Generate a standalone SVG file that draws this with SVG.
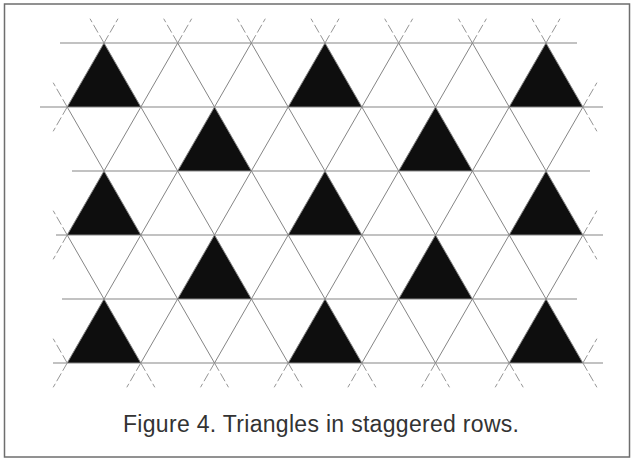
<svg xmlns="http://www.w3.org/2000/svg" xmlns:xlink="http://www.w3.org/1999/xlink" width="631" height="459" viewBox="0 0 631 459">
<style>
.frame{fill:#fff;stroke:#6e6e6e;stroke-width:1.5}
.grid line{stroke:#858585;stroke-width:1;fill:none}
.ext line{stroke:#959595;stroke-width:1;stroke-dasharray:9 3;fill:none}
.tri{fill:#0e0e0e}
.cap{font-family:"Liberation Sans",Arial,sans-serif;font-size:23px;fill:#333}
</style>
<defs>
<path id="t" d="M0,0 L36.835,64 L-36.835,64 Z"/>
</defs>
<rect class="frame" x="4.5" y="4" width="625" height="453"/>
<g id="triangles" class="tri">
<use xlink:href="#t" href="#t" x="104" y="43"/>
<use xlink:href="#t" href="#t" x="325" y="43"/>
<use xlink:href="#t" href="#t" x="546" y="43"/>
<use xlink:href="#t" href="#t" x="214.5" y="107"/>
<use xlink:href="#t" href="#t" x="435.5" y="107"/>
<use xlink:href="#t" href="#t" x="104" y="171"/>
<use xlink:href="#t" href="#t" x="325" y="171"/>
<use xlink:href="#t" href="#t" x="546" y="171"/>
<use xlink:href="#t" href="#t" x="214.5" y="235"/>
<use xlink:href="#t" href="#t" x="435.5" y="235"/>
<use xlink:href="#t" href="#t" x="104" y="299"/>
<use xlink:href="#t" href="#t" x="325" y="299"/>
<use xlink:href="#t" href="#t" x="546" y="299"/>
</g>
<g id="connectors">
<g class="grid">
<line x1="60" y1="43" x2="577" y2="43"/>
<line x1="40" y1="107" x2="603" y2="107"/>
<line x1="72" y1="171" x2="590" y2="171"/>
<line x1="56" y1="235" x2="603" y2="235"/>
<line x1="62" y1="299" x2="577" y2="299"/>
<line x1="53" y1="363" x2="603" y2="363"/>
<line x1="67.2" y1="235" x2="140.8" y2="363"/>
<line x1="67.2" y1="107" x2="214.5" y2="363"/>
<line x1="104" y1="43" x2="288.2" y2="363"/>
<line x1="177.7" y1="43" x2="361.9" y2="363"/>
<line x1="251.3" y1="43" x2="435.5" y2="363"/>
<line x1="325" y1="43" x2="509.2" y2="363"/>
<line x1="398.7" y1="43" x2="582.9" y2="363"/>
<line x1="472.4" y1="43" x2="582.9" y2="235"/>
<line x1="546" y1="43" x2="582.9" y2="107"/>
<line x1="104" y1="43" x2="67.2" y2="107"/>
<line x1="177.7" y1="43" x2="67.2" y2="235"/>
<line x1="251.3" y1="43" x2="67.2" y2="363"/>
<line x1="325" y1="43" x2="140.8" y2="363"/>
<line x1="398.7" y1="43" x2="214.5" y2="363"/>
<line x1="472.4" y1="43" x2="288.2" y2="363"/>
<line x1="546" y1="43" x2="361.9" y2="363"/>
<line x1="582.9" y1="107" x2="435.5" y2="363"/>
<line x1="582.9" y1="235" x2="509.2" y2="363"/>
</g>
<g class="ext">
<line x1="67.2" y1="363" x2="53.2" y2="338.7"/>
<line x1="67.2" y1="235" x2="53.2" y2="210.7"/>
<line x1="140.8" y1="363" x2="154.8" y2="387.3"/>
<line x1="67.2" y1="107" x2="53.2" y2="82.7"/>
<line x1="214.5" y1="363" x2="228.5" y2="387.3"/>
<line x1="104" y1="43" x2="90" y2="18.7"/>
<line x1="288.2" y1="363" x2="302.2" y2="387.3"/>
<line x1="177.7" y1="43" x2="163.7" y2="18.7"/>
<line x1="361.9" y1="363" x2="375.9" y2="387.3"/>
<line x1="251.3" y1="43" x2="237.3" y2="18.7"/>
<line x1="435.5" y1="363" x2="449.5" y2="387.3"/>
<line x1="325" y1="43" x2="311" y2="18.7"/>
<line x1="509.2" y1="363" x2="523.2" y2="387.3"/>
<line x1="398.7" y1="43" x2="384.7" y2="18.7"/>
<line x1="582.9" y1="363" x2="596.9" y2="387.3"/>
<line x1="472.4" y1="43" x2="458.4" y2="18.7"/>
<line x1="582.9" y1="235" x2="596.9" y2="259.3"/>
<line x1="546" y1="43" x2="532" y2="18.7"/>
<line x1="582.9" y1="107" x2="596.9" y2="131.3"/>
<line x1="104" y1="43" x2="118" y2="18.7"/>
<line x1="67.2" y1="107" x2="53.2" y2="131.3"/>
<line x1="177.7" y1="43" x2="191.7" y2="18.7"/>
<line x1="67.2" y1="235" x2="53.2" y2="259.3"/>
<line x1="251.3" y1="43" x2="265.3" y2="18.7"/>
<line x1="67.2" y1="363" x2="53.2" y2="387.3"/>
<line x1="325" y1="43" x2="339" y2="18.7"/>
<line x1="140.8" y1="363" x2="126.8" y2="387.3"/>
<line x1="398.7" y1="43" x2="412.7" y2="18.7"/>
<line x1="214.5" y1="363" x2="200.5" y2="387.3"/>
<line x1="472.4" y1="43" x2="486.4" y2="18.7"/>
<line x1="288.2" y1="363" x2="274.2" y2="387.3"/>
<line x1="546" y1="43" x2="560" y2="18.7"/>
<line x1="361.9" y1="363" x2="347.9" y2="387.3"/>
<line x1="582.9" y1="107" x2="596.9" y2="82.7"/>
<line x1="435.5" y1="363" x2="421.5" y2="387.3"/>
<line x1="582.9" y1="235" x2="596.9" y2="210.7"/>
<line x1="509.2" y1="363" x2="495.2" y2="387.3"/>
<line x1="582.9" y1="363" x2="596.9" y2="338.7"/>
</g>
</g>
<text class="cap" x="321" y="432" text-anchor="middle" textLength="396" lengthAdjust="spacing">Figure 4. Triangles in staggered rows.</text>
</svg>
